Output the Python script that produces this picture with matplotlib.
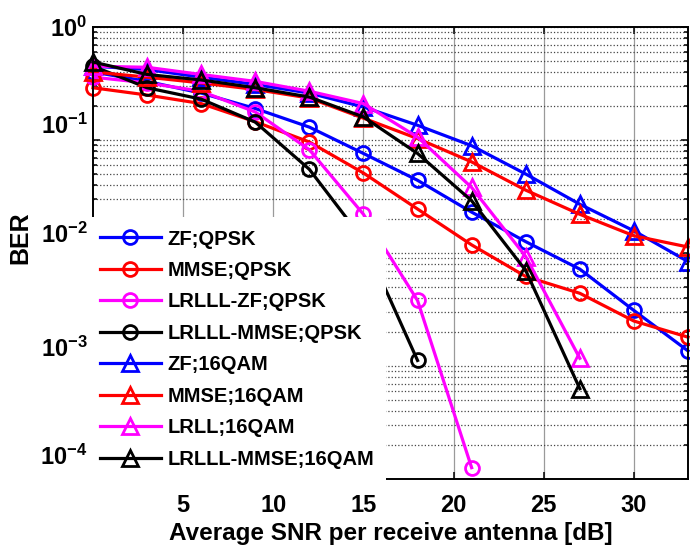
import numpy as np
import matplotlib
matplotlib.use('Agg')
import matplotlib.pyplot as plt
from matplotlib import font_manager
from matplotlib.transforms import ScaledTranslation
from matplotlib.ticker import FixedLocator, LogLocator, FuncFormatter, NullFormatter

# data (SNR in dB)
snr = [0, 3, 6, 9, 12, 15, 18, 21, 24, 27, 30, 33]

zf_qpsk = [0.40, 0.33, 0.26, 0.19, 0.13, 0.076, 0.044, 0.023, 0.0126, 0.0072, 0.0031, 0.00136]
mmse_qpsk = [0.29, 0.25, 0.21, 0.145, 0.096, 0.051, 0.0245, 0.0118, 0.0062, 0.0044, 0.0025, 0.0018]
lrlll_zf_qpsk = [0.36, 0.32, 0.27, 0.177, 0.082, 0.022, 0.0038, 0.000126]
lrlll_mmse_qpsk = [0.45, 0.29, 0.23, 0.144, 0.055, 0.013, 0.00112]

zf_16qam = [0.45, 0.42, 0.36, 0.31, 0.26, 0.196, 0.135, 0.089, 0.050, 0.027, 0.0157, 0.0084]
mmse_16qam = [0.40, 0.36, 0.32, 0.28, 0.235, 0.156, 0.103, 0.064, 0.036, 0.022, 0.0142, 0.0113]
lrll_16qam = [0.45, 0.44, 0.38, 0.33, 0.27, 0.21, 0.106, 0.038, 0.0093, 0.00117]
lrlll_mmse_16qam = [0.49, 0.38, 0.34, 0.29, 0.24, 0.16, 0.076, 0.029, 0.0070, 0.00063]

series = [
    ('ZF;QPSK', zf_qpsk, '#0000ff', 'o'),
    ('MMSE;QPSK', mmse_qpsk, '#ff0000', 'o'),
    ('LRLLL-ZF;QPSK', lrlll_zf_qpsk, '#ff00ff', 'o'),
    ('LRLLL-MMSE;QPSK', lrlll_mmse_qpsk, '#000000', 'o'),
    ('ZF;16QAM', zf_16qam, '#0000ff', '^'),
    ('MMSE;16QAM', mmse_16qam, '#ff0000', '^'),
    ('LRLL;16QAM', lrll_16qam, '#ff00ff', '^'),
    ('LRLLL-MMSE;16QAM', lrlll_mmse_16qam, '#000000', '^'),
]

xticks = [5, 10, 15, 20, 25, 30]
yticks = [1e-4, 1e-3, 1e-2, 1e-1, 1e0]

names = {f.name for f in font_manager.fontManager.ttflist}
if 'Liberation Sans Narrow' in names:
    narrow = 'Liberation Sans Narrow'
    tick_fs = 19
    ber_fs = 20
else:
    narrow = 'Liberation Sans'
    tick_fs = 17
    ber_fs = 18

plt.rcParams['font.family'] = ['Liberation Sans', 'DejaVu Sans']
plt.rcParams['font.weight'] = 'bold'
plt.rcParams['mathtext.fontset'] = 'custom'
plt.rcParams['mathtext.bf'] = narrow + ':bold'
plt.rcParams['mathtext.rm'] = narrow + ':bold'

fig = plt.figure(figsize=(6.9, 5.54), dpi=100)
ax = fig.add_axes([93/690, 1-479/554, 595/690, 452/554])

for label, vals, col, mk in series:
    ms = 10 if mk == 'o' else 12
    ax.plot(snr[:len(vals)], vals, color=col, marker=mk, markersize=ms,
            markerfacecolor='none', markeredgewidth=2, linewidth=2.3,
            label=label, clip_on=False)

ax.set_yscale('log')
ax.set_xlim(0, 33)
ax.set_ylim(1e-4, 1)

ax.xaxis.set_major_locator(FixedLocator(xticks))
ax.yaxis.set_major_locator(FixedLocator(yticks))
ax.yaxis.set_minor_locator(LogLocator(base=10, subs=np.arange(2, 10)))
ax.yaxis.set_minor_formatter(NullFormatter())
ax.yaxis.set_major_formatter(FuncFormatter(lambda v, p: r'$\mathbf{10^{%d}}$' % round(np.log10(v))))

ax.grid(True, axis='x', which='major', color='#9a9a9a', linestyle='-', linewidth=0.9)
ax.grid(True, axis='y', which='both', color='#444444', linestyle=':', linewidth=0.9)

ax.tick_params(which='both', direction='in', top=True, right=True, width=1.1)
ax.tick_params(which='major', length=5)
ax.tick_params(which='minor', length=3)
ax.tick_params(axis='x', pad=11)
ax.tick_params(axis='y', pad=4)
for s in ax.spines.values():
    s.set_linewidth(1.4)

for lbl in ax.get_xticklabels():
    lbl.set_fontfamily(narrow)
    lbl.set_fontsize(tick_fs)
    lbl.set_fontweight('bold')

# MATLAB export put the decade labels a little above their gridlines
shifts = [24, 19, 20, 16, 0]
for lbl, dy in zip(ax.get_yticklabels(), shifts):
    lbl.set_fontsize(tick_fs)
    lbl.set_transform(lbl.get_transform() + ScaledTranslation(0, dy/100, fig.dpi_scale_trans))

ax.set_xlabel('Average SNR per receive antenna [dB]', fontsize=17.5, fontweight='bold')
ax.xaxis.set_label_coords(0.5, -0.095)
ax.set_ylabel('BER', fontsize=ber_fs, fontweight='bold', fontfamily=narrow)
ax.yaxis.set_label_coords(-0.1025, 0.533)

leg = ax.legend(loc='lower left', bbox_to_anchor=(-0.0084, -0.0044), borderaxespad=0,
                fontsize=14.5, handlelength=3.0, handletextpad=0.35, labelspacing=0.62,
                borderpad=0.6, fancybox=False, framealpha=1)
leg.get_frame().set_facecolor('white')
leg.get_frame().set_edgecolor('none')
leg.set_zorder(10)

fig.savefig('out.png', dpi=100)
